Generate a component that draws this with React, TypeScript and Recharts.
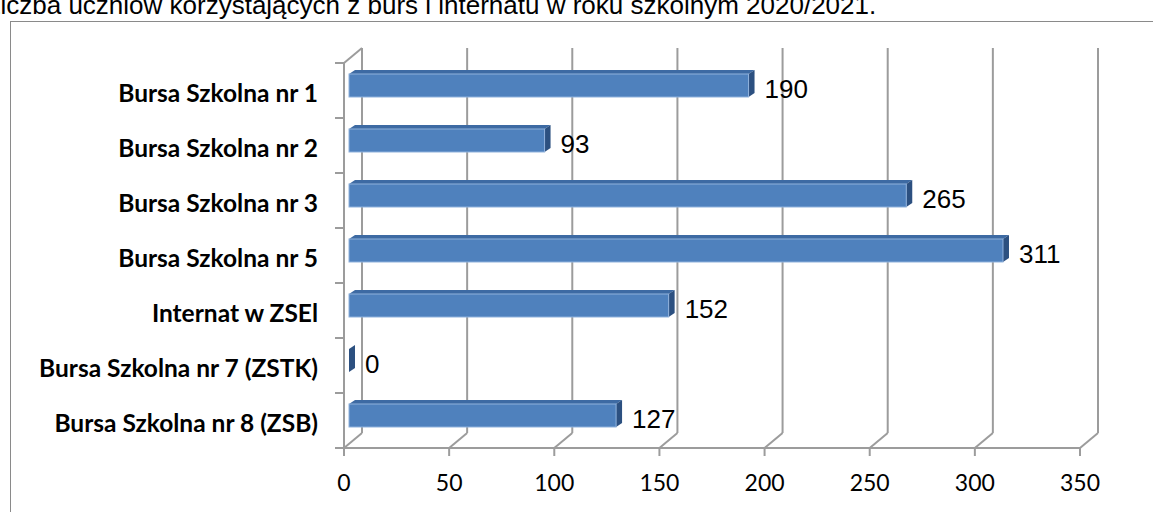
import React from 'react';
import { BarChart, Bar, XAxis, YAxis, CartesianGrid, LabelList } from 'recharts';

const categories = [
  'Bursa Szkolna nr 1',
  'Bursa Szkolna nr 2',
  'Bursa Szkolna nr 3',
  'Bursa Szkolna nr 5',
  'Internat w ZSEl',
  'Bursa Szkolna nr 7 (ZSTK)',
  'Bursa Szkolna nr 8 (ZSB)',
];
const students = [190, 93, 265, 311, 152, 0, 127];
const xTicks = [0, 50, 100, 150, 200, 250, 300, 350];

const TITLE = 'Liczba uczniów korzystających z burs i internatu w roku szkolnym 2020/2021.';

const data = categories.map((name, i) => ({ name, value: students[i] }));

const GRID = '#9c9c9c';
const DX = 18; // depth of the back wall
const DY = -15;
const BDX = 6; // depth of a bar
const BDY = -4;

const Bar3D = (props: any) => {
  const { x, y, width, height } = props;
  const fx = x + 5;
  const fy = y - 5;
  const w = Math.max(width, 0);
  return (
    <g>
      <polygon
        points={`${fx},${fy} ${fx + BDX},${fy + BDY} ${fx + w + BDX},${fy + BDY} ${fx + w},${fy}`}
        fill="#3d6aa3"
      />
      <polygon
        points={`${fx + w},${fy} ${fx + w + BDX},${fy + BDY} ${fx + w + BDX},${fy + height + BDY} ${fx + w},${fy + height}`}
        fill="#2c5080"
      />
      {w > 0 && <rect x={fx} y={fy} width={w} height={height} fill="#4f81bd" stroke="#8fb1dc" strokeWidth={1} />}
    </g>
  );
};

const ValueLabel = (props: any) => {
  const { x, y, width, height, value } = props;
  return (
    <text
      x={x + Math.max(width, 0) + 5 + BDX + 10}
      y={y - 5 + height / 2 + 3}
      dominantBaseline="central"
      fontFamily="'Liberation Sans', Arial, sans-serif"
      fontSize={26}
      fill="#000"
    >
      {value}
    </text>
  );
};

const CategoryTick = (props: any) => {
  const { x, y, payload, index } = props;
  const half = 27.5;
  return (
    <g>
      <line x1={x - 9} y1={y - half} x2={x} y2={y - half} stroke={GRID} strokeWidth={2} />
      {index === categories.length - 1 && (
        <line x1={x - 9} y1={y + half} x2={x} y2={y + half} stroke={GRID} strokeWidth={2} />
      )}
      <text
        x={x - 26}
        y={y + 2}
        textAnchor="end"
        dominantBaseline="central"
        fontFamily="Lato, 'Open Sans', sans-serif"
        fontWeight="bold"
        fontSize={24.5}
        fill="#000"
      >
        {payload.value}
      </text>
    </g>
  );
};

const ValueTick = (props: any) => {
  const { x, y, payload } = props;
  return (
    <text
      x={x}
      y={y}
      textAnchor="middle"
      dominantBaseline="central"
      fontFamily="Lato, 'Open Sans', sans-serif"
      fontSize={23}
      fill="#000"
    >
      {payload.value}
    </text>
  );
};

const BackLine = (props: any) => {
  const { x1, y1, y2, index } = props;
  return (
    <g key={`bl-${index}`}>
      <line x1={x1} y1={y2} x2={x1 + DX} y2={y2 + DY} stroke={GRID} strokeWidth={2} />
      <line x1={x1 + DX} y1={y2 + DY} x2={x1 + DX} y2={y1 + DY} stroke={GRID} strokeWidth={2} />
      {index === 0 && <line x1={x1} y1={y1} x2={x1 + DX} y2={y1 + DY} stroke={GRID} strokeWidth={2} />}
    </g>
  );
};

export default function App() {
  return (
    <div
      style={{
        position: 'absolute',
        left: 0,
        top: 0,
        width: 1153,
        height: 512,
        overflow: 'hidden',
        background: '#fff',
      }}
    >
      <div
        style={{
          position: 'absolute',
          left: -14,
          top: -10,
          whiteSpace: 'nowrap',
          fontFamily: "'Liberation Sans', Arial, sans-serif",
          fontSize: 26,
          color: '#000',
        }}
      >
        {TITLE}
      </div>
      <div
        style={{
          position: 'absolute',
          left: 10,
          top: 21,
          width: 1200,
          height: 600,
          border: '1.5px solid #8a8a8a',
        }}
      />
      <div style={{ position: 'absolute', left: 0, top: 0 }}>
        <BarChart
          width={1153}
          height={512}
          data={data}
          layout="vertical"
          margin={{ top: 63, right: 73, bottom: 24, left: 0 }}
          barSize={23}
        >
          <CartesianGrid horizontal={false} vertical={BackLine} />
          <XAxis
            type="number"
            domain={[0, 350]}
            ticks={xTicks}
            interval={0}
            height={40}
            axisLine={{ stroke: GRID, strokeWidth: 2 }}
            tickLine={{ stroke: GRID, strokeWidth: 2 }}
            tickSize={8}
            tickMargin={26}
            tick={<ValueTick />}
          />
          <YAxis
            type="category"
            dataKey="name"
            width={344}
            axisLine={{ stroke: GRID, strokeWidth: 2 }}
            tickLine={false}
            tickSize={0}
            tickMargin={0}
            interval={0}
            tick={<CategoryTick />}
          />
          <Bar dataKey="value" shape={<Bar3D />} isAnimationActive={false}>
            <LabelList dataKey="value" content={<ValueLabel />} />
          </Bar>
        </BarChart>
      </div>
    </div>
  );
}
